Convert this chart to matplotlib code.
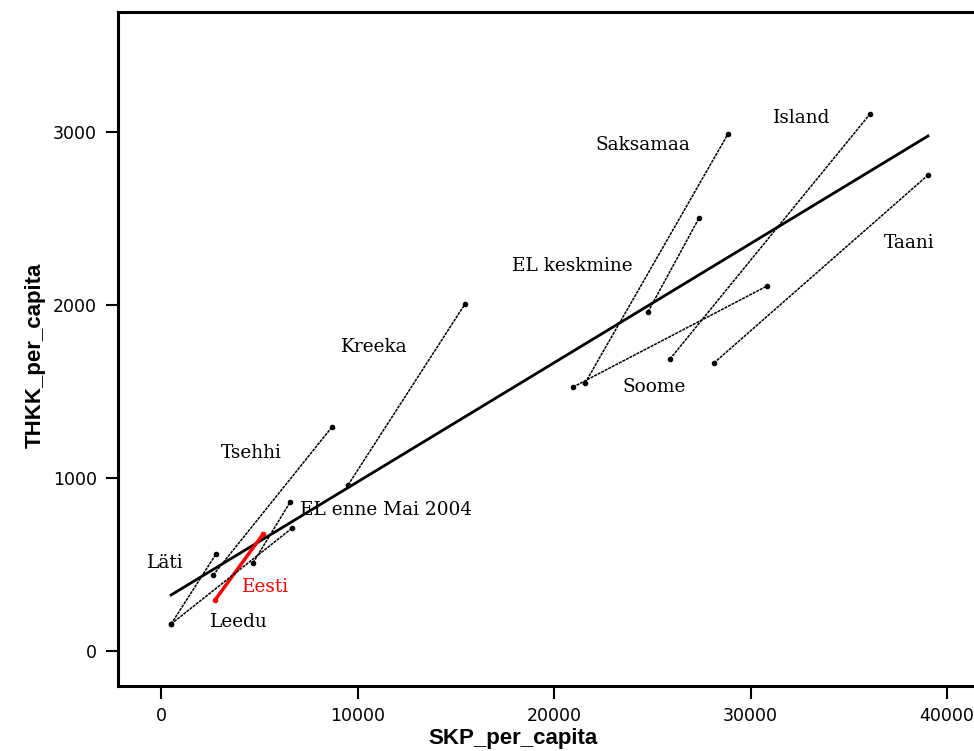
import matplotlib
matplotlib.use("Agg")
import matplotlib.pyplot as plt

# riigid: SKP ja THKK per capita, kaks aastat (algus, lõpp)
riigid = ['Eesti', 'Läti', 'Leedu', 'Tsehhi', 'Kreeka', 'Saksamaa',
          'Soome', 'Island', 'Taani', 'EL keskmine', 'EL enne Mai 2004']
skp_algus = [2750, 510, 510, 2650, 9520, 21580, 20970, 25900, 28140, 24780, 4680]
skp_lopp = [5190, 2800, 6670, 8700, 15470, 28850, 30840, 36080, 39030, 27380, 6570]
thkk_algus = [295, 156, 156, 439, 960, 1549, 1526, 1688, 1665, 1960, 509]
thkk_lopp = [676, 561, 711, 1295, 2006, 2988, 2110, 3104, 2751, 2503, 861]

# siltide asukohad
silt_x = [4120, -710, 2490, 3050, 9160, 22090, 23510, 31150, 36790, 17860, 7070]
silt_y = [370, 509, 168, 1145, 1757, 2925, 1526, 3081, 2358, 2225, 815]

# regressioonijoon
trend_x = [510, 39030]
trend_y = [324, 2977]

fig = plt.figure(figsize=(9.74, 7.51), dpi=100)
ax = fig.add_axes([118 / 974, 65 / 751, 862 / 974, 674 / 751])

ax.plot(trend_x, trend_y, color='black', lw=2.0, zorder=3)

for i, nimi in enumerate(riigid):
    if nimi == 'Eesti':
        col, lw = 'red', 2.5
    else:
        col, lw = 'black', 1.1
    ax.plot([skp_algus[i], skp_lopp[i]], [thkk_algus[i], thkk_lopp[i]],
            color=col, lw=lw, ls=(0, (2, 0.6)) if col == 'black' else '-',
            marker='o', ms=3, zorder=4)
    ax.text(silt_x[i], silt_y[i], nimi, color=col, family='DejaVu Serif',
            fontsize=13.3, va='center', ha='left')

ax.set_xlim(-2190, 41680)
ax.set_ylim(-202, 3694)
ax.set_xticks([0, 10000, 20000, 30000, 40000])
ax.set_yticks([0, 1000, 2000, 3000])

ax.spines['right'].set_visible(False)
for s in ['left', 'bottom', 'top']:
    ax.spines[s].set_linewidth(2.2)
ax.tick_params(direction='out', length=9, width=1.5, labelsize=12.5, pad=6)

ax.set_xlabel('SKP_per_capita', fontsize=16, fontweight='bold',
              family='Liberation Sans')
ax.set_ylabel('THKK_per_capita', fontsize=16, fontweight='bold',
              family='Liberation Sans')
ax.xaxis.set_label_coords(0.458, -0.062)
ax.yaxis.set_label_coords(-0.084, 0.49)

fig.savefig('out.png', dpi=100, facecolor='white')
